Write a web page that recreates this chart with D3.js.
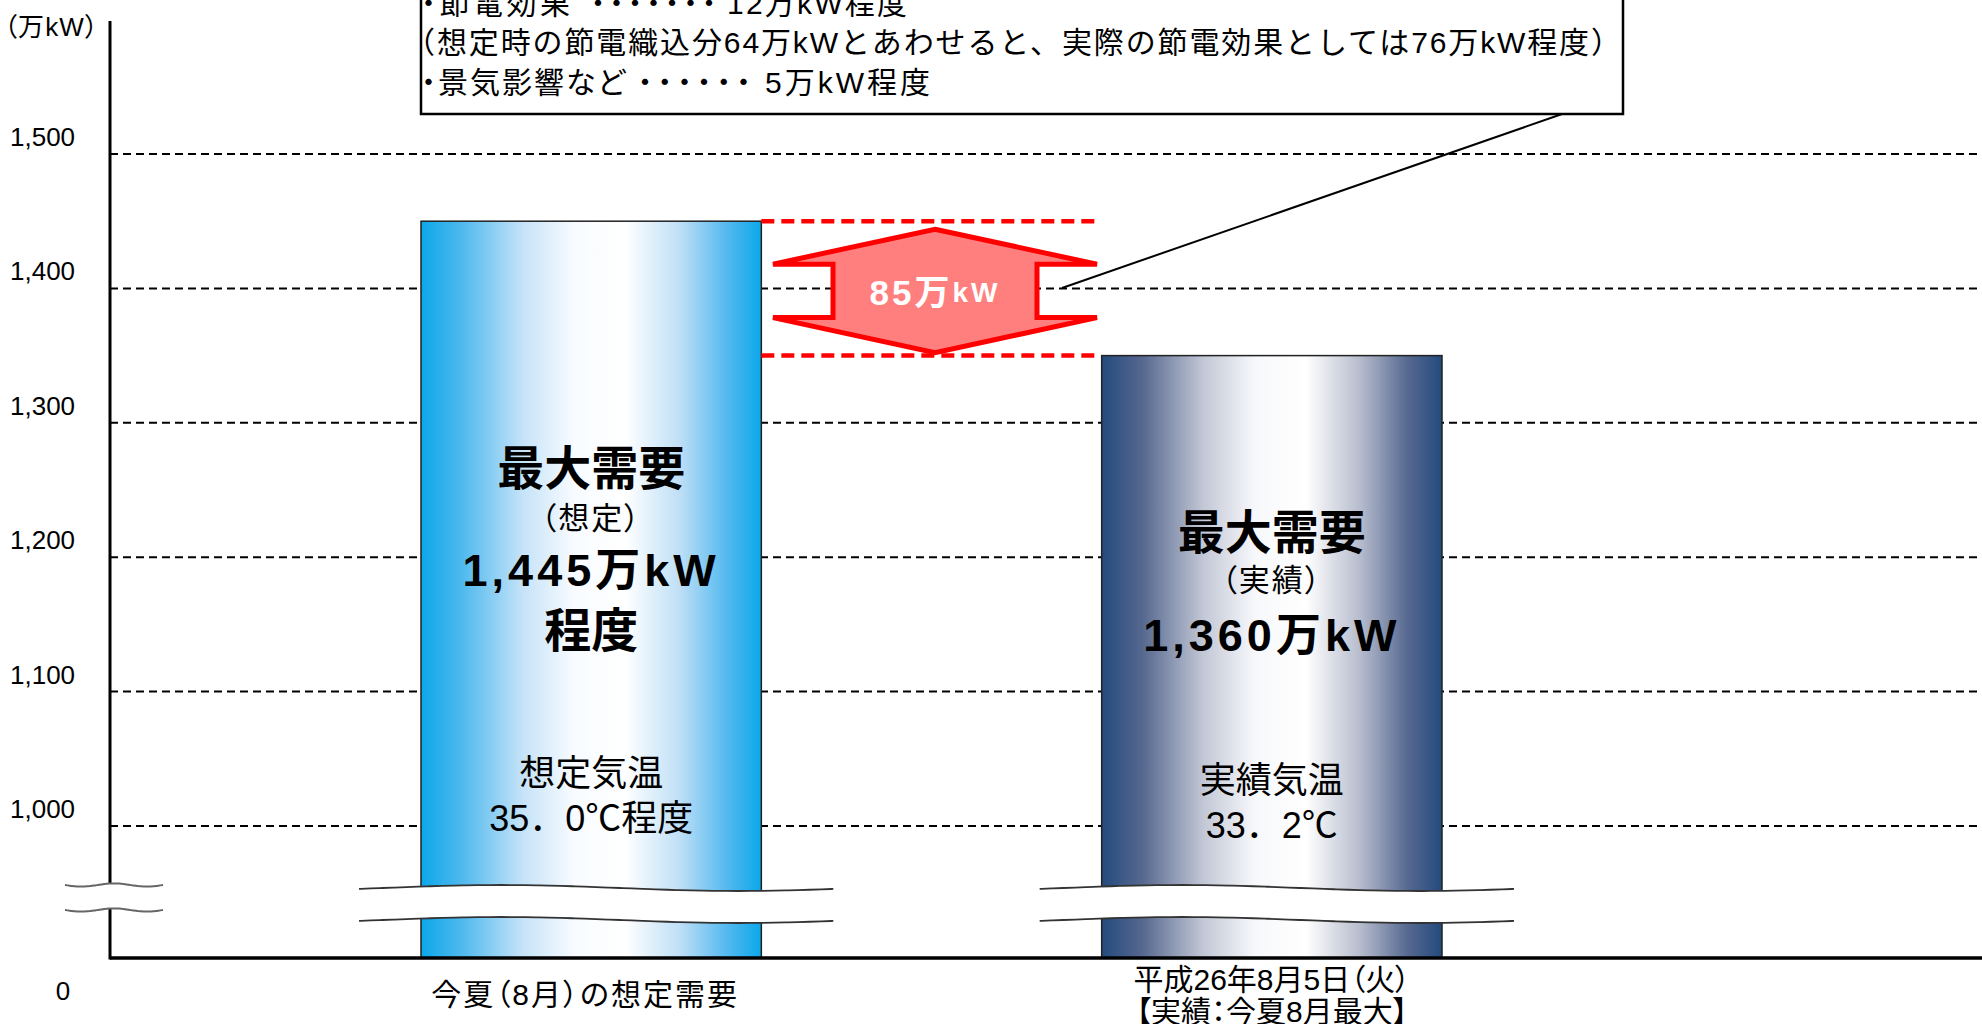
<!DOCTYPE html>
<html><head><meta charset="utf-8">
<script src="https://cdn.jsdelivr.net/npm/d3@7"></script>
<style>body{margin:0;background:#fff;overflow:hidden;} svg{display:block;} text{font-feature-settings:"palt";} text.np{font-feature-settings:normal;}</style>
</head><body>
<script>
// ---------- data ----------
const categories = ["今夏（8月）の想定需要", "平成26年8月5日（火）"];
const categorySubLabels = ["", "【実績：今夏8月最大】"];
const barValues = [1450, 1350];               // drawn bar heights (万kW)
const barTitles = ["最大需要", "最大需要"];
const barKinds = ["（想定）", "（実績）"];
const barAmounts = ["1,445万kW", "1,360万kW"];
const barAmountSuffix = ["程度", ""];
const tempTitles = ["想定気温", "実績気温"];
const tempValues = ["35．0℃程度", "33．2℃"];
const yTicks = [1000, 1100, 1200, 1300, 1400, 1500];
const yTickLabels = ["1,000", "1,100", "1,200", "1,300", "1,400", "1,500"];
const zeroLabel = "0";
const unitLabel = "（万kW）";
const gapNumber = "85万";
const gapUnit = "kW";
const noteLine1 = ["・節電効果", "・・・・・・・", "12万kW程度"];
const noteLine2 = "（想定時の節電織込分64万kWとあわせると、実際の節電効果としては76万kW程度）";
const noteLine3 = ["・景気影響など", "・・・・・・", "5万kW程度"];

// ---------- layout ----------
const W = 1982, H = 1024;
const axisX = 110, baseY = 958;
const FONT = "'Liberation Sans', 'Noto Sans CJK JP', sans-serif";

const svg = d3.select("body").append("svg").attr("width", W).attr("height", H)
  .style("font-family", FONT);

const y = d3.scaleLinear().domain([1000, 1500]).range([826, 154]);
const x = d3.scaleBand().domain(categories).range([421, 1442]).paddingInner(0.5).paddingOuter(0);

// gradients
const defs = svg.append("defs");
const gradSpecs = [
  {id: "g0", stops: [[0,"#0ba7ea"],[0.12,"#4fb9ee"],[0.3,"#c6e3f8"],[0.45,"#f8fbff"],[0.6,"#ffffff"],[0.76,"#bfdff6"],[0.9,"#52b9ef"],[1,"#0ba7ea"]]},
  {id: "g1", stops: [[0,"#234a7e"],[0.12,"#56688f"],[0.3,"#c3c8d6"],[0.45,"#f7f8fb"],[0.6,"#ffffff"],[0.76,"#b6bccd"],[0.9,"#566890"],[1,"#234a7e"]]}
];
gradSpecs.forEach(g => {
  const lg = defs.append("linearGradient").attr("id", g.id).attr("x1","0%").attr("x2","100%").attr("y1","0%").attr("y2","0%");
  g.stops.forEach(s => lg.append("stop").attr("offset", s[0]).attr("stop-color", s[1]));
});

// gridlines
svg.append("g").selectAll("line").data(yTicks).join("line")
  .attr("x1", axisX).attr("x2", W).attr("y1", d => y(d)).attr("y2", d => y(d))
  .attr("stroke", "#000").attr("stroke-width", 2).attr("stroke-dasharray", "8,5");

// tick labels
svg.append("g").selectAll("text").data(yTicks).join("text")
  .attr("x", 10).attr("y", d => y(d) - 17).attr("dominant-baseline", "central")
  .attr("font-size", 26).attr("fill", "#000")
  .text((d, i) => yTickLabels[i]);
svg.append("text").attr("x", 63).attr("y", 991).attr("text-anchor", "middle")
  .attr("dominant-baseline", "central").attr("font-size", 26).text(zeroLabel);
svg.append("text").attr("x", 4).attr("y", 27).attr("dominant-baseline", "central")
  .attr("font-size", 26).attr("textLength", 94).attr("lengthAdjust", "spacing").text(unitLabel);

// bars
svg.append("g").selectAll("rect").data(barValues).join("rect")
  .attr("x", (d, i) => x(categories[i])).attr("width", x.bandwidth())
  .attr("y", d => y(d)).attr("height", d => baseY - y(d))
  .attr("fill", (d, i) => `url(#g${i})`)
  .attr("stroke", "#222").attr("stroke-width", 1.5);

// axes
svg.append("line").attr("x1", axisX).attr("x2", axisX).attr("y1", 21).attr("y2", baseY + 1.5)
  .attr("stroke", "#000").attr("stroke-width", 3);
svg.append("line").attr("x1", axisX).attr("x2", W).attr("y1", baseY).attr("y2", baseY)
  .attr("stroke", "#000").attr("stroke-width", 3.5);

// break marks
const waveLine = d3.line().curve(d3.curveBasis);
function wave(x0, x1, yy, amp, periods, phase) {
  return d3.range(0, 41).map(k => {
    const t = k / 40;
    return [x0 + t * (x1 - x0), yy + amp * Math.sin(2 * Math.PI * periods * t + phase)];
  });
}
function breakMark(x0, x1, yTop, yBot, amp, periods, phase, color, sw) {
  const top = wave(x0, x1, yTop, amp, periods, phase);
  const bot = wave(x0, x1, yBot, amp, periods, phase);
  const area = top.concat(bot.slice().reverse());
  svg.append("path").attr("d", d3.line()(area) + "Z").attr("fill", "#fff").attr("stroke", "none");
  [top, bot].forEach(p => svg.append("path").attr("d", waveLine(p))
    .attr("fill", "none").attr("stroke", color).attr("stroke-width", sw));
}
breakMark(65, 163, 885, 910, 1.6, 1.5, 0, "#666", 2);
categories.forEach((c, i) => {
  const bx = x(c);
  breakMark(bx - 62, bx + x.bandwidth() + 72, 888, 920, 3, 1.0, Math.PI * 0.9, "#333", 1.8);
});

// red dashed reference lines
const yA = y(barValues[0]), yB = y(barValues[1]);
const x1r = x(categories[0]) + x.bandwidth(), x2r = 1097;
[yA, yB].forEach(yy => svg.append("line").attr("x1", x1r).attr("x2", x2r).attr("y1", yy).attr("y2", yy)
  .attr("stroke", "#ff0000").attr("stroke-width", 4.5).attr("stroke-dasharray", "13,7"));

// double arrow
const cx = 935;
const tTop = yA + 8, hTop = yA + 43, hBot = yB - 38, tBot = yB - 3;
const arrowPts = [[cx, tTop], [cx + 162, hTop], [cx + 102, hTop], [cx + 102, hBot], [cx + 162, hBot],
  [cx, tBot], [cx - 162, hBot], [cx - 102, hBot], [cx - 102, hTop], [cx - 162, hTop]];
svg.append("path").attr("d", d3.line()(arrowPts) + "Z")
  .attr("fill", "#ff7f7f").attr("stroke", "#ff0000").attr("stroke-width", 5).attr("stroke-linejoin", "miter");
const gt = svg.append("text").attr("x", cx).attr("y", 292).attr("text-anchor", "middle")
  .attr("dominant-baseline", "central").attr("fill", "#fff").attr("font-weight", "bold")
  .attr("letter-spacing", 3);
gt.append("tspan").attr("font-size", 35).text(gapNumber);
gt.append("tspan").attr("font-size", 28).text(gapUnit);

// leader line and note box
svg.append("line").attr("x1", 1062).attr("y1", 288).attr("x2", 1565).attr("y2", 113)
  .attr("stroke", "#000").attr("stroke-width", 2);
svg.append("rect").attr("x", 421).attr("y", -60).attr("width", 1202).attr("height", 174)
  .attr("fill", "#fff").attr("stroke", "#000").attr("stroke-width", 2.5);
const noteG = svg.append("g").attr("font-size", 30).attr("fill", "#000");
const seg = (txt, xx, yy, opts) => {
  const t = noteG.append("text").attr("x", xx).attr("y", yy)
    .attr("dominant-baseline", "central").text(txt);
  if (opts.np) t.attr("class", "np");
  if (opts.len) t.attr("textLength", opts.len).attr("lengthAdjust", "spacing");
  if (opts.ls !== undefined) t.attr("letter-spacing", opts.ls);
  return t;
};
seg(noteLine1[0], 421, 3, {ls: 3.5});
seg(noteLine1[1], 583, 3, {np: true, ls: -11.5});
seg(noteLine1[2], 727, 3, {np: true, len: 180});
seg(noteLine2, 405, 42, {np: true, len: 1216});
seg(noteLine3[0], 421, 82, {ls: 2});
seg(noteLine3[1], 630, 82, {np: true, ls: -10.3});
seg(noteLine3[2], 765, 82, {np: true, len: 165});

// bar texts
const bc = i => x(categories[i]) + x.bandwidth() / 2;
const txt = (s, xx, yy, size, weight, ls, cls) => svg.append("text").attr("x", xx).attr("y", yy)
  .attr("class", cls || null)
  .attr("text-anchor", "middle").attr("dominant-baseline", "central")
  .attr("font-size", size).attr("font-weight", weight || "normal")
  .attr("letter-spacing", ls || 0).attr("fill", "#000").text(s);
const textRows = [
  {title: 468, kind: 518, amount: 570, suffix: 630, tt: 773, tv: 818},
  {title: 532, kind: 580, amount: 635, suffix: 690, tt: 780, tv: 825}
];
categories.forEach((c, i) => {
  const r = textRows[i];
  txt(barTitles[i], bc(i), r.title, 47, "bold");
  txt(barKinds[i], bc(i), r.kind, 31, "normal", 2);
  txt(barAmounts[i], bc(i), r.amount, 45, "bold", 4);
  if (barAmountSuffix[i]) txt(barAmountSuffix[i], bc(i), r.suffix, 47, "bold");
  txt(tempTitles[i], bc(i), r.tt, 36, "normal");
  txt(tempValues[i], bc(i), r.tv, 36, "normal", 0, "np");
});

// category labels
txt(categories[0], bc(0) - 6, 994, 30, "normal", 2);
txt(categories[1], bc(1), 979, 30, "normal", 0);
txt(categorySubLabels[1], bc(1), 1011, 30, "normal", 0);
</script>
</body></html>
